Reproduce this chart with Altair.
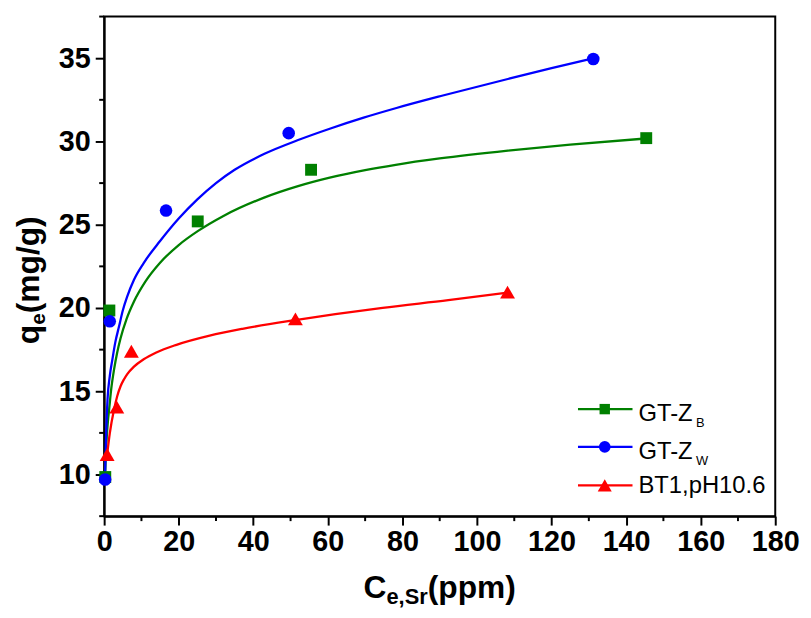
import altair as alt
import pandas as pd

# ---------------- data ----------------
x_tick_values = [0, 20, 40, 60, 80, 100, 120, 140, 160, 180]
x_minor_values = [10, 30, 50, 70, 90, 110, 130, 150, 170]
y_tick_values = [10, 15, 20, 25, 30, 35]
y_minor_values = [7.5, 12.5, 17.5, 22.5, 27.5, 32.5, 37.5]

# measured points
gtzb_ce = [0.3, 1.4, 25.1, 55.5, 145.4]
gtzb_qe = [9.85, 19.85, 25.2, 28.3, 30.2]
gtzw_ce = [0.27, 1.5, 16.6, 49.5, 131.2]
gtzw_qe = [9.7, 19.2, 25.85, 30.5, 34.95]
bt1_ce = [0.8, 3.4, 7.3, 51.3, 108.2]
bt1_qe = [11.2, 14.05, 17.4, 19.35, 20.95]

# fitted curves
fit_gtzb_ce = [0.3, 0.45, 0.7, 1.0, 1.33, 1.9, 2.65, 3.5, 4.4, 6.0, 8.0, 11.0, 15.0, 20.0,
               25.2, 32.0, 42.9, 52.0, 60.5, 70.0, 78.2, 90.0, 108.3, 125.0, 145.4]
fit_gtzb_qe = [10.2, 11.15, 12.27, 13.18, 13.9, 15.14, 16.3, 17.33, 18.18, 19.33, 20.39, 21.57,
               22.72, 23.78, 24.63, 25.53, 26.63, 27.32, 27.83, 28.28, 28.6, 28.98, 29.45,
               29.81, 30.18]
fit_gtzw_ce = [0.27, 0.45, 0.9, 1.5, 2.2, 3.0, 4.0, 5.0, 6.2, 8.0, 10.6, 15.0, 20.0, 25.0,
               30.0, 35.0, 43.0, 51.85, 60.7, 69.6, 78.4, 90.85, 108.6, 120.0, 131.2]
fit_gtzw_qe = [10.2, 11.8, 14.5, 15.9, 16.9, 17.95, 18.9, 19.85, 20.7, 21.7, 22.7, 24.02,
               25.37, 26.52, 27.5, 28.3, 29.26, 30.07, 30.78, 31.43, 32.01, 32.76, 33.77,
               34.4, 35.0]
fit_bt1_ce = [0.8, 1.5, 2.65, 3.5, 4.4, 5.3, 6.2, 8.0, 10.6, 14.0, 19.4, 28.3, 37.1, 50.8,
              62.0, 74.7, 92.3, 108.2]
fit_bt1_qe = [11.2, 12.46, 13.9, 14.7, 15.3, 15.71, 16.03, 16.48, 16.92, 17.33, 17.79, 18.34,
              18.75, 19.26, 19.63, 20.01, 20.47, 20.92]

series_labels = ["GT-Z", "GT-Z", "BT1,pH10.6"]
series_subs = ["B", "W", ""]
series_colors = ["#008000", "#0000ff", "#ff0000"]
series_shapes = ["square", "circle", "triangle-up"]
series_sizes = [144, 161, 225]
legend_sizes = [110, 140, 200]

# ---------------- layout ----------------
PW, PH = 677, 504
FONT = "Liberation Sans"

xs = alt.Scale(domain=[0, 180], nice=False, zero=False)
ys = alt.Scale(domain=[7.5, 37.5], nice=False, zero=False)

X_AX = alt.Axis(values=x_tick_values, title=None, grid=False, tickSize=9, tickWidth=2,
                tickColor="black", domainColor="black", domainWidth=2,
                labelFont=FONT, labelFontWeight="bold", labelFontSize=29,
                labelColor="black", labelPadding=3, labelFlush=False,
                labelOverlap=False, format="d")
Y_AX = alt.Axis(values=y_tick_values, title=None, grid=False, tickSize=9, tickWidth=2,
                tickColor="black", domainColor="black", domainWidth=2,
                labelFont=FONT, labelFontWeight="bold", labelFontSize=29,
                labelColor="black", labelPadding=5, labelFlush=False,
                labelOverlap=False, format="d")


def X(f):
    return alt.X(f"{f}:Q", scale=xs, axis=X_AX)


def Y(f):
    return alt.Y(f"{f}:Q", scale=ys, axis=Y_AX)


one = pd.DataFrame({"d": [0]})
layers = []

# minor ticks
layers.append(
    alt.Chart(pd.DataFrame({"v": x_minor_values})).mark_rule(color="black", strokeWidth=2)
    .encode(x=X("v"), y=alt.value(PH), y2=alt.value(PH + 5))
)
layers.append(
    alt.Chart(pd.DataFrame({"v": y_minor_values})).mark_rule(color="black", strokeWidth=2)
    .encode(y=Y("v"), x=alt.value(0), x2=alt.value(-5))
)

pts = [(gtzb_ce, gtzb_qe), (gtzw_ce, gtzw_qe), (bt1_ce, bt1_qe)]
fits = [(fit_gtzb_ce, fit_gtzb_qe), (fit_gtzw_ce, fit_gtzw_qe), (fit_bt1_ce, fit_bt1_qe)]

for i in range(3):
    fdf = pd.DataFrame({"ce": fits[i][0], "qe": fits[i][1]})
    pdf = pd.DataFrame({"ce": pts[i][0], "qe": pts[i][1]})
    layers.append(
        alt.Chart(fdf).mark_line(color=series_colors[i], strokeWidth=2.3, interpolate="monotone")
        .encode(x=X("ce"), y=Y("qe"))
    )
    layers.append(
        alt.Chart(pdf).mark_point(shape=series_shapes[i], filled=True, size=series_sizes[i],
                                  color=series_colors[i], opacity=1, strokeWidth=0)
        .encode(x=X("ce"), y=Y("qe"))
    )

# legend (manual, to allow subscripts)
legend_rows = [396, 434, 473]
legend_text_off = [12, 12, 8]
LX0, LX1, LXM, LXT = 478, 533, 505, 539
LFS, LSFS = 24, 13
for i in range(3):
    ry = legend_rows[i]
    layers.append(
        alt.Chart(one).mark_rule(color=series_colors[i], strokeWidth=2.3)
        .encode(x=alt.value(LX0), x2=alt.value(LX1), y=alt.value(ry))
    )
    layers.append(
        alt.Chart(one).mark_point(shape=series_shapes[i], filled=True, size=legend_sizes[i],
                                  color=series_colors[i], opacity=1, strokeWidth=0)
        .encode(x=alt.value(LXM), y=alt.value(ry))
    )
    layers.append(
        alt.Chart(one).mark_text(align="left", baseline="alphabetic", font=FONT,
                                 fontSize=LFS, color="black")
        .encode(x=alt.value(LXT), y=alt.value(ry + legend_text_off[i]),
                text=alt.value(series_labels[i]))
    )
    if series_subs[i]:
        layers.append(
            alt.Chart(one).mark_text(align="left", baseline="alphabetic", font=FONT,
                                     fontSize=LSFS, color="black")
            .encode(x=alt.value(LXT + 58), y=alt.value(ry + 18.5),
                    text=alt.value(series_subs[i]))
        )

# x axis title: C_{e,Sr}(ppm)
x_title_parts = [("C", 32, 0), ("e,Sr", 22, 6), ("(ppm)", 32, 0)]
x_title_widths = [0.722 * 32, 1.89 * 22, 2.777 * 32]
tx = PW / 2 - sum(x_title_widths) / 2
TBASE = 587
for (txt, fs, dy), w in zip(x_title_parts, x_title_widths):
    layers.append(
        alt.Chart(one).mark_text(align="left", baseline="alphabetic", font=FONT,
                                 fontWeight="bold", fontSize=fs, color="black")
        .encode(x=alt.value(tx), y=alt.value(TBASE + dy), text=alt.value(txt))
    )
    tx += w

# y axis title: q_e(mg/g), rotated
y_title_parts = [("q", 32, 0), ("e", 21, 6), ("(mg/g)", 32, 0)]
y_title_widths = [0.611 * 32, 0.556 * 21, 3.055 * 32]
ty = 266 + sum(y_title_widths) / 2
YBASE = -66
for (txt, fs, dx), w in zip(y_title_parts, y_title_widths):
    layers.append(
        alt.Chart(one).mark_text(align="left", baseline="alphabetic", font=FONT,
                                 fontWeight="bold", fontSize=fs, color="black", angle=270)
        .encode(x=alt.value(YBASE + dx), y=alt.value(ty), text=alt.value(txt))
    )
    ty -= w

chart = (
    alt.layer(*layers)
    .properties(width=PW, height=PH,
                autosize=alt.AutoSizeParams(type="none"),
                padding={"left": 97, "top": 6, "right": 28, "bottom": 90})
    .configure_view(stroke="black", strokeWidth=2)
)

chart.save("out.html", embed_options={"renderer": "svg", "actions": False})
